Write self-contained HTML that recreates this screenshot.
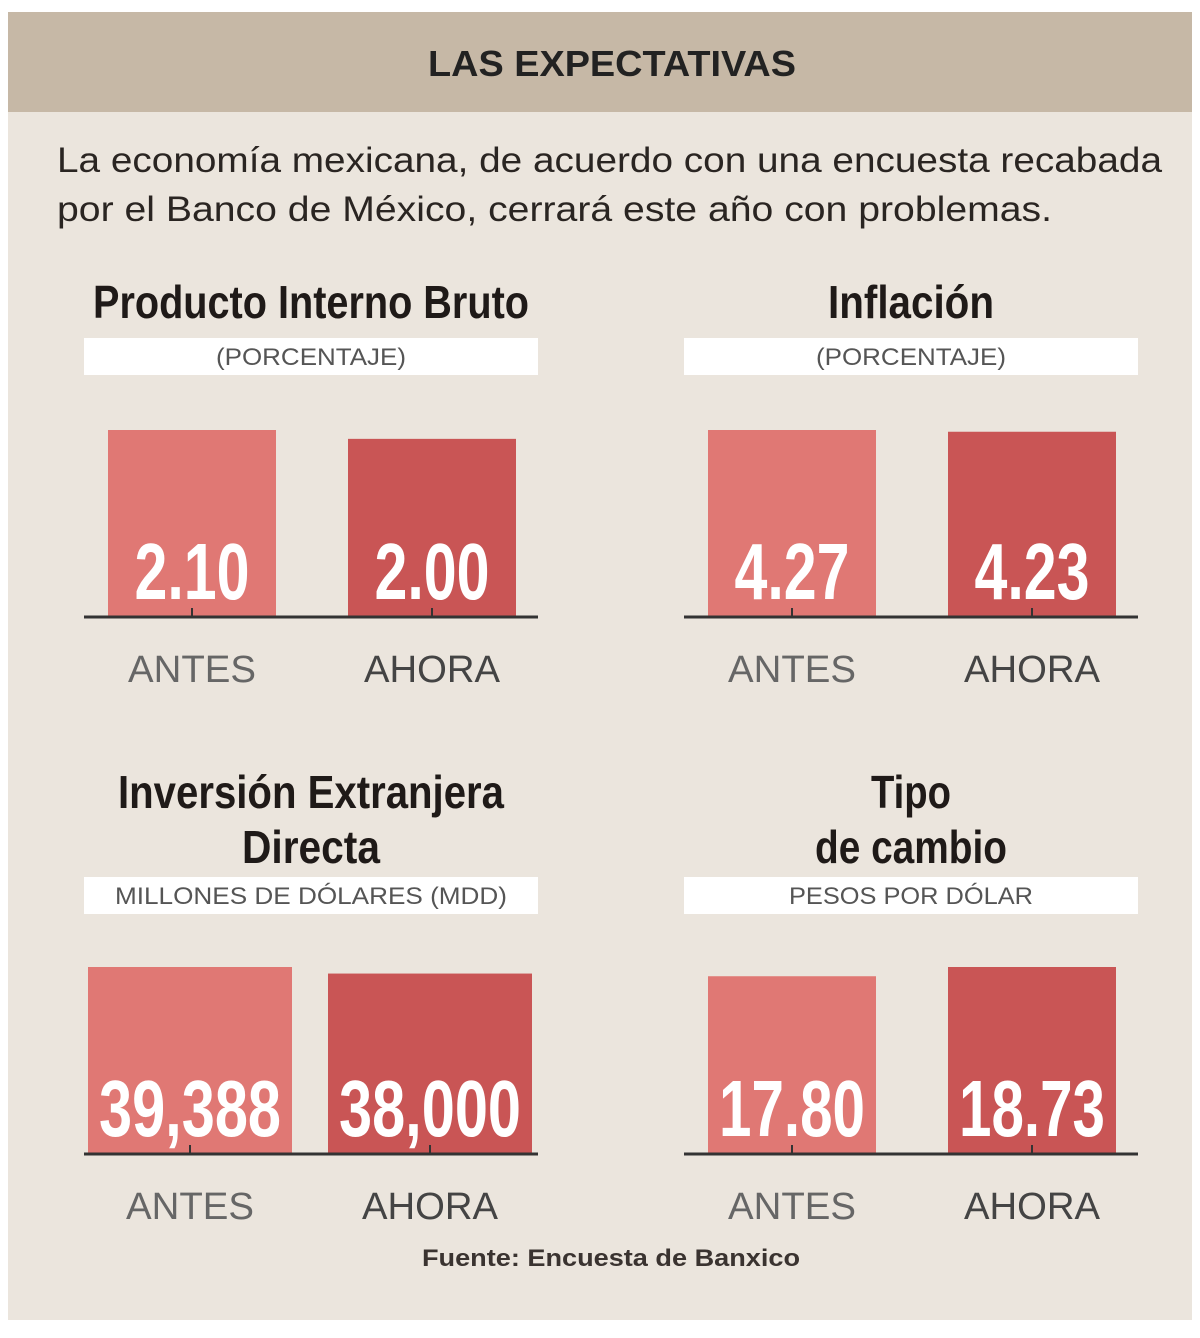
<!DOCTYPE html>
<html><head><meta charset="utf-8"><style>
body{margin:0;background:#fff;width:1200px;height:1333px;overflow:hidden;font-family:"Liberation Sans",sans-serif}
svg text{font-family:"Liberation Sans",sans-serif}
</style></head><body>
<svg width="1200" height="1333">
<rect x="8" y="12" width="1184" height="1308" fill="#ebe5dd"/>
<rect x="8" y="12" width="1184" height="100" fill="#c6b8a6"/>
<text x="612" y="76" text-anchor="middle" font-size="36" font-weight="bold" fill="#222" textLength="368" lengthAdjust="spacingAndGlyphs">LAS EXPECTATIVAS</text>
<text x="57" y="172" font-size="35" fill="#2a2522" textLength="1105" lengthAdjust="spacingAndGlyphs">La economía mexicana, de acuerdo con una encuesta recabada</text>
<text x="57" y="221" font-size="35" fill="#2a2522" textLength="995" lengthAdjust="spacingAndGlyphs">por el Banco de México, cerrará este año con problemas.</text>
<g id="charts"></g>
<text x="611" y="1266" text-anchor="middle" font-size="24" font-weight="bold" fill="#3a3330" textLength="378" lengthAdjust="spacingAndGlyphs">Fuente: Encuesta de Banxico</text>
</svg>
<script>
const chartTitles=[["Producto Interno Bruto"],["Inflación"],["Inversión Extranjera","Directa"],["Tipo","de cambio"]];
const chartUnits=["(PORCENTAJE)","(PORCENTAJE)","MILLONES DE DÓLARES (MDD)","PESOS POR DÓLAR"];
const categories=["ANTES","AHORA"];
const pibValues=[2.10,2.00];
const inflValues=[4.27,4.23];
const iedValues=[39388,38000];
const tipoValues=[17.80,18.73];
const valueLabels=[["2.10","2.00"],["4.27","4.23"],["39,388","38,000"],["17.80","18.73"]];
const allValues=[pibValues,inflValues,iedValues,tipoValues];
const NS="http://www.w3.org/2000/svg";
const g=document.getElementById('charts');
function mk(tag,attrs,txt){const e=document.createElementNS(NS,tag);for(const k in attrs)e.setAttribute(k,attrs[k]);if(txt!==undefined)e.textContent=txt;g.appendChild(e);return e;}
const colors=["#e07874","#c95555"];
const titleW={"Producto Interno Bruto":436,"Inflación":166,"Inversión Extranjera":386,"Directa":138,"Tipo":80,"de cambio":192};
const unitW={"(PORCENTAJE)":190,"MILLONES DE DÓLARES (MDD)":392,"PESOS POR DÓLAR":244};
const valW={4:115,5:146,6:182};
const catW={"ANTES":128,"AHORA":136};
allValues.forEach((vals,i)=>{
  const col=i%2, row=Math.floor(i/2);
  const x0=col?684:84, w=454, cx=x0+w/2;
  const base=row?1153:616;
  const unitY=row?877:338;
  const wide=(i===2);
  const bw=wide?204:168;
  const centers=wide?[x0+106,x0+346]:[x0+108,x0+348];
  const max=Math.max(...vals);
  const y=v=>base-186*v/max;
  const tl=chartTitles[i];
  tl.forEach((t,j)=>{
    const ty=row?(808+j*55):318;
    let e=mk('text',{x:cx,y:ty,'text-anchor':'middle','font-size':46,'font-weight':'bold',fill:'#1f1a18',textLength:titleW[t],lengthAdjust:'spacingAndGlyphs'},t);
    
    
  });
  let r=mk('rect',{x:x0,y:unitY,width:w,height:37,fill:'#fff'});
  
  
  let u=mk('text',{x:cx,y:unitY+27,'text-anchor':'middle','font-size':24,fill:'#555',textLength:unitW[chartUnits[i]],lengthAdjust:'spacingAndGlyphs'},chartUnits[i]);
  
  
  vals.forEach((v,k)=>{
    const c=centers[k];
    let b=mk('rect',{x:c-bw/2,y:y(v),width:bw,height:base-y(v),fill:colors[k]});
    
    
    const lab=valueLabels[i][k];
    let vl=mk('text',{x:c,y:base-17,'text-anchor':'middle','font-size':80,'font-weight':'bold',fill:'#fff',textLength:valW[lab.length]||146,lengthAdjust:'spacingAndGlyphs'},lab);
    
    
    let tk=mk('line',{x1:c,x2:c,y1:base-8,y2:base,stroke:'#333','stroke-width':2});
    
    
    let cl=mk('text',{x:c,y:base+66,'text-anchor':'middle','font-size':38,fill:k?'#444':'#666',textLength:catW[categories[k]],lengthAdjust:'spacingAndGlyphs'},categories[k]);
    
    
  });
  let ax=mk('line',{x1:x0,x2:x0+w,y1:base+1,y2:base+1,stroke:'#333','stroke-width':3});
  
  
});
</script>
</body></html>
